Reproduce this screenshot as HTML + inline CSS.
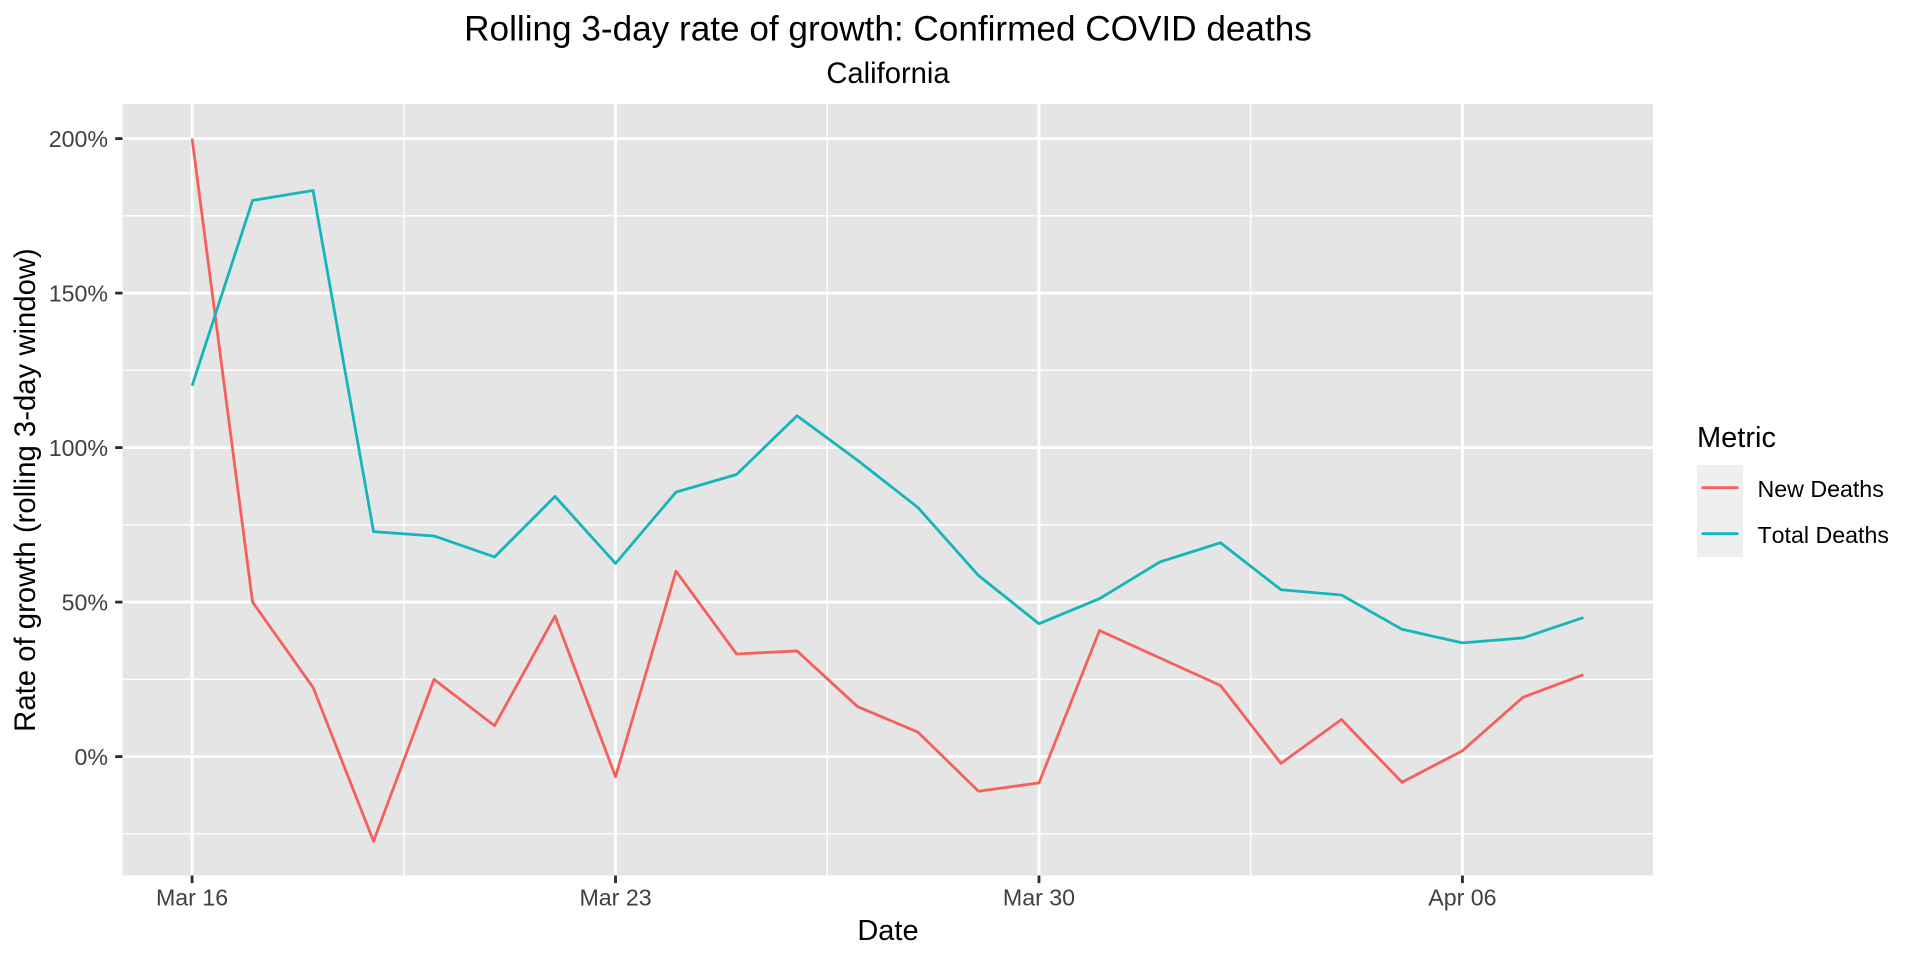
<!DOCTYPE html>
<html lang="en">
<head>
<meta charset="utf-8">
<title>Rolling 3-day rate of growth: Confirmed COVID deaths</title>
<style>
html,body{margin:0;padding:0;background:#fff;width:1920px;height:960px;overflow:hidden}
svg{display:block}
text{font-family:"Liberation Sans",Arial,sans-serif;font-kerning:none}
</style>
</head>
<body>
<svg id="chart" xmlns="http://www.w3.org/2000/svg" width="1920" height="960" viewBox="0 0 1920 960">
  <rect x="0" y="0" width="1920" height="960" fill="#ffffff"/>
  <rect x="122.5" y="104" width="1530.5" height="771.5" fill="#e5e5e5"/>
  <g id="grid"></g>
  <g id="series"></g>
  <g id="axes"></g>
  <text x="888" y="40.7" font-size="35.15" text-anchor="middle" fill="#000">Rolling 3-day rate of growth: Confirmed COVID deaths</text>
  <text x="888" y="83" font-size="29.2" text-anchor="middle" fill="#000">California</text>
  <text x="888" y="940" font-size="29" text-anchor="middle" fill="#000">Date</text>
  <text transform="translate(35,490) rotate(-90)" font-size="29.3" text-anchor="middle" fill="#000">Rate of growth (rolling 3-day window)</text>
  <g>
    <text x="1697" y="447" font-size="29" fill="#000">Metric</text>
    <rect x="1697" y="465" width="46" height="46" fill="#efefef"/>
    <rect x="1697" y="511" width="46" height="46" fill="#efefef"/>
    <line x1="1701.6" x2="1738.4" y1="487.7" y2="487.7" stroke="#f6605b" stroke-width="2.8"/>
    <line x1="1701.6" x2="1738.4" y1="533.7" y2="533.7" stroke="#14b6bc" stroke-width="2.8"/>
    <text x="1757.5" y="497" font-size="23.2" fill="#000">New Deaths</text>
    <text x="1757.5" y="543" font-size="23.2" fill="#000">Total Deaths</text>
  </g>
</svg>
<script>
var dates = ["Mar 16","Mar 17","Mar 18","Mar 19","Mar 20","Mar 21","Mar 22","Mar 23","Mar 24","Mar 25","Mar 26","Mar 27","Mar 28","Mar 29","Mar 30","Mar 31","Apr 01","Apr 02","Apr 03","Apr 04","Apr 05","Apr 06","Apr 07","Apr 08"];
var newDeaths = [200,50,22.4,-27.4,25,10,45.5,-6.5,60,33.2,34.2,16.2,7.9,-11.2,-8.5,40.8,31.9,23,-2.2,12,-8.3,1.9,19.2,26.5];
var totalDeaths = [120,180,183.2,72.8,71.4,64.6,84.2,62.5,85.6,91.3,110.3,95.9,80.6,58.6,43,51.1,63,69.2,54,52.3,41.2,36.8,38.4,45];
var xTickLabels = ["Mar 16","Mar 23","Mar 30","Apr 06"];
var yTickValues = [0,50,100,150,200];
var yTickLabels = ["0%","50%","100%","150%","200%"];

var NS = "http://www.w3.org/2000/svg";
var panel = {left:122.5, right:1653, top:104, bottom:875.5};

function xScale(i){
  var first = 0, last = dates.length - 1;
  var pad = (last - first) * 0.05;
  return panel.left + (i - (first - pad)) / ((last + pad) - (first - pad)) * (panel.right - panel.left);
}
function yScale(v){
  return 756.6 - v * 3.09;
}
function make(tag, attrs, parent){
  var el = document.createElementNS(NS, tag);
  for (var k in attrs) el.setAttribute(k, attrs[k]);
  parent.appendChild(el);
  return el;
}

var gridG = document.getElementById("grid");
var axesG = document.getElementById("axes");
var seriesG = document.getElementById("series");
var GRID = "#ffffff", TICK = "#2b2b2b", LABEL = "#404040";

// minor gridlines: midpoints between major breaks
var yStep = yTickValues[1] - yTickValues[0];
var yMinor = [yTickValues[0] - yStep / 2];
yTickValues.forEach(function(v){ yMinor.push(v + yStep / 2); });
yMinor.filter(function(v){ return yScale(v) > panel.top && yScale(v) < panel.bottom; }).forEach(function(v){
  var l = make("line", {x1:panel.left, x2:panel.right, y1:yScale(v), y2:yScale(v), stroke:GRID, "stroke-width":1.4}, gridG);
  
  
});
var xIdx = xTickLabels.map(function(d){ return dates.indexOf(d); });
for (var m = 0; m < xIdx.length - 1; m++) {
  var mid = xScale((xIdx[m] + xIdx[m + 1]) / 2);
  var ml = make("line", {x1:mid, x2:mid, y1:panel.top, y2:panel.bottom, stroke:GRID, "stroke-width":1.4}, gridG);
  
  
}

// major gridlines, ticks, labels
yTickValues.forEach(function(v, i){
  var y = yScale(v);
  var g = make("line", {x1:panel.left, x2:panel.right, y1:y, y2:y, stroke:GRID, "stroke-width":2.8}, gridG);
  
  
  var t = make("line", {x1:panel.left - 7.3, x2:panel.left, y1:y, y2:y, stroke:TICK, "stroke-width":2.8}, axesG);
  
  
  var lb = make("text", {x:108, y:y + 8.3, "font-size":23.2, "text-anchor":"end", fill:LABEL}, axesG);
  
  
  lb.textContent = yTickLabels[i];
});
xIdx.forEach(function(ix, i){
  var x = xScale(ix);
  var g = make("line", {x1:x, x2:x, y1:panel.top, y2:panel.bottom, stroke:GRID, "stroke-width":2.8}, gridG);
  
  
  var t = make("line", {x1:x, x2:x, y1:panel.bottom, y2:panel.bottom + 7.6, stroke:TICK, "stroke-width":2.8}, axesG);
  
  
  var lb = make("text", {x:x, y:905.4, "font-size":23.2, "text-anchor":"middle", fill:LABEL}, axesG);
  
  
  lb.textContent = xTickLabels[i];
});

// series
function linePoints(values){
  return values.map(function(v, i){ return xScale(i).toFixed(2) + "," + yScale(v).toFixed(2); }).join(" ");
}
var newLine = make("polyline", {points:linePoints(newDeaths), fill:"none", stroke:"#f6605b", "stroke-width":2.8, "stroke-linejoin":"round", "stroke-linecap":"butt"}, seriesG);


var totalLine = make("polyline", {points:linePoints(totalDeaths), fill:"none", stroke:"#14b6bc", "stroke-width":2.8, "stroke-linejoin":"round", "stroke-linecap":"butt"}, seriesG);


</script>
</body>
</html>
